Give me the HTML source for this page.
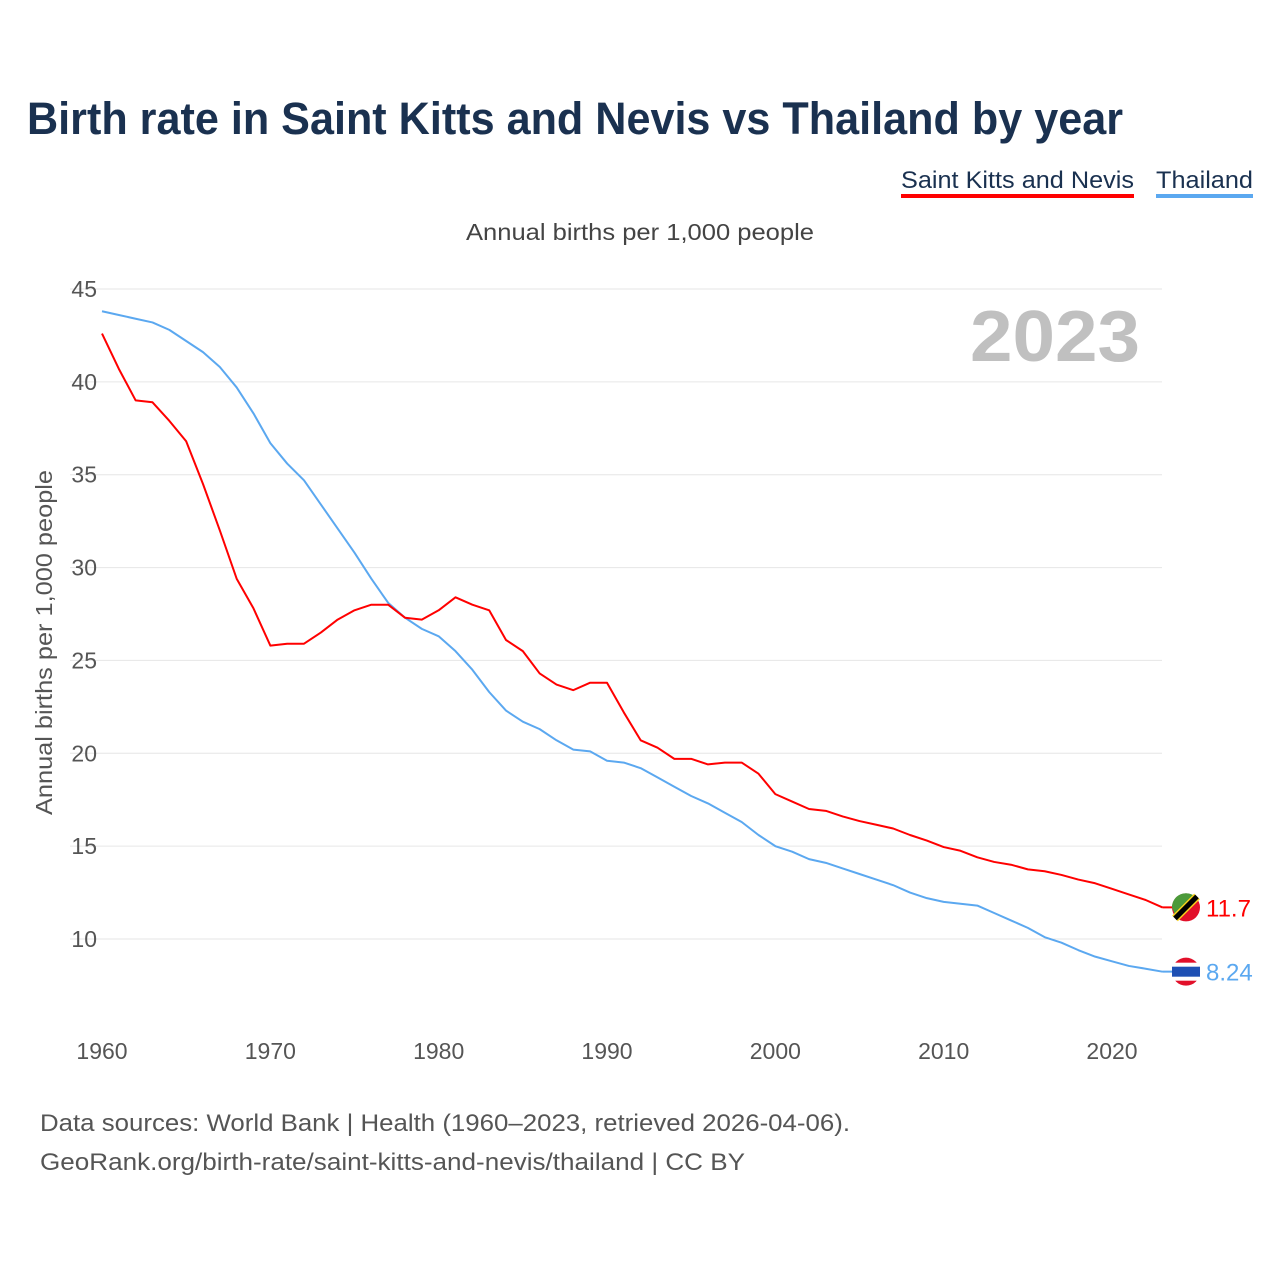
<!DOCTYPE html>
<html><head><meta charset="utf-8">
<style>
body{margin:0;background:#fff;font-family:"Liberation Sans",sans-serif;}
svg text{font-family:"Liberation Sans",sans-serif;}
</style></head>
<body>
<svg id="chart" width="1280" height="1280" viewBox="0 0 1280 1280">
<text x="27" y="134" font-size="45" font-weight="bold" fill="#1a3150" textLength="1096" lengthAdjust="spacingAndGlyphs">Birth rate in Saint Kitts and Nevis vs Thailand by year</text>
<g>
<text x="901" y="188" font-size="24" fill="#1a3150" textLength="233" lengthAdjust="spacingAndGlyphs">Saint Kitts and Nevis</text>
<rect x="901" y="194" width="233" height="4" fill="#ff0000"/>
<text x="1156" y="188" font-size="24" fill="#1a3150" textLength="97" lengthAdjust="spacingAndGlyphs">Thailand</text>
<rect x="1156" y="194" width="97" height="4" fill="#5ba8f0"/>
</g>
<text x="466" y="240" font-size="23" fill="#444" textLength="348" lengthAdjust="spacingAndGlyphs">Annual births per 1,000 people</text>
<text x="52" y="815" font-size="23" fill="#555" textLength="345" lengthAdjust="spacingAndGlyphs" transform="rotate(-90 52 815)">Annual births per 1,000 people</text>
<text x="970" y="361" font-size="72" font-weight="bold" fill="#c0c0c0" textLength="170" lengthAdjust="spacingAndGlyphs">2023</text>
<g id="grid"></g>
<g id="series"></g>
<text x="40" y="1131" font-size="24" fill="#555" textLength="810" lengthAdjust="spacingAndGlyphs">Data sources: World Bank | Health (1960–2023, retrieved 2026-04-06).</text>
<text x="40" y="1170" font-size="24" fill="#555" textLength="705" lengthAdjust="spacingAndGlyphs">GeoRank.org/birth-rate/saint-kitts-and-nevis/thailand | CC BY</text>
</svg>
<script>
const years=[];for(let y=1960;y<=2023;y++)years.push(y);
const kitts=[42.6,40.7,39.0,38.9,37.9,36.8,34.5,32.0,29.4,27.8,25.8,25.9,25.9,26.5,27.2,27.7,28.0,28.0,27.3,27.2,27.7,28.4,28.0,27.7,26.1,25.5,24.3,23.7,23.4,23.8,23.8,22.2,20.7,20.3,19.7,19.7,19.4,19.5,19.5,18.9,17.8,17.4,17.0,16.9,16.6,16.35,16.15,15.95,15.6,15.3,14.95,14.75,14.4,14.15,14.0,13.75,13.65,13.45,13.2,13.0,12.7,12.4,12.1,11.7];
const thai=[43.8,43.6,43.4,43.2,42.8,42.2,41.6,40.8,39.7,38.3,36.7,35.6,34.7,33.4,32.1,30.8,29.4,28.1,27.3,26.7,26.3,25.5,24.5,23.3,22.3,21.7,21.3,20.7,20.2,20.1,19.6,19.5,19.2,18.7,18.2,17.7,17.3,16.8,16.3,15.6,15.0,14.7,14.3,14.1,13.8,13.5,13.2,12.9,12.5,12.2,12.0,11.9,11.8,11.4,11.0,10.6,10.1,9.8,9.4,9.05,8.8,8.55,8.4,8.24];
const yTicks=[10,15,20,25,30,35,40,45];
const xTicks=[1960,1970,1980,1990,2000,2010,2020];
const kittsLabel="11.7", thaiLabel="8.24";
const NS="http://www.w3.org/2000/svg";
const X=y=>102+(y-1960)*(1010/60);
const Y=v=>939-(v-10)*(650/35);
function mk(t,a,p){const e=document.createElementNS(NS,t);for(const k in a)e.setAttribute(k,a[k]);p.appendChild(e);return e;}
const grid=document.getElementById('grid'), ser=document.getElementById('series');
yTicks.forEach(v=>{
 const l=mk('line',{x1:70,x2:1162,y1:Y(v),y2:Y(v),stroke:'#e6e6e6','stroke-width':1},grid);
 
 
 const t=mk('text',{x:97,y:Y(v)+8,'font-size':23,fill:'#555','text-anchor':'end'},grid);t.textContent=v;
 
 
});
xTicks.forEach(v=>{
 const t=mk('text',{x:X(v),y:1059,'font-size':23,fill:'#555','text-anchor':'middle'},grid);t.textContent=v;
 
 
});
function line(d,c,name){
 const p=mk('polyline',{points:d.map((v,i)=>X(years[i])+','+Y(v)).join(' '),fill:'none',stroke:c,'stroke-width':2,'stroke-linejoin':'round'},ser);
 
 
}
line(thai,'#5ba8f0','thailand-line');
line(kitts,'#ff0000','saint-kitts-line');
const lk=kitts[kitts.length-1], lt=thai[thai.length-1], xe=X(2023);
mk('line',{x1:xe,x2:xe+24,y1:Y(lk),y2:Y(lk),stroke:'#ff0000','stroke-width':2},ser);
mk('line',{x1:xe,x2:xe+24,y1:Y(lt),y2:Y(lt),stroke:'#5ba8f0','stroke-width':2},ser);
const fk=mk('g',{},ser);


const cx=1186, ck=Y(lk);
mk('circle',{cx:cx,cy:ck,r:14,fill:'#e2102a'},fk);
mk('path',{d:`M${cx-14} ${ck} A14 14 0 0 1 ${cx+10} ${ck-10} L${cx-10} ${ck+10} Z`,fill:'#4b9a3a'},fk);
mk('line',{x1:cx-11,y1:ck+11,x2:cx+11,y2:ck-11,stroke:'#f8d21c','stroke-width':8},fk);
mk('line',{x1:cx-11,y1:ck+11,x2:cx+11,y2:ck-11,stroke:'#000','stroke-width':5},fk);
const ft=mk('g',{},ser);


const ct=Y(lt);
mk('circle',{cx:cx,cy:ct,r:14,fill:'#e2102a'},ft);
mk('rect',{x:cx-14,y:ct-9,width:28,height:18,fill:'#fff'},ft);
mk('rect',{x:cx-14,y:ct-5,width:28,height:10,fill:'#1e50b4'},ft);
const tk=mk('text',{x:1206,y:ck+9,'font-size':24,fill:'#ff0000'},ser);tk.textContent=kittsLabel;


const tt=mk('text',{x:1206,y:ct+9,'font-size':24,fill:'#5ba8f0'},ser);tt.textContent=thaiLabel;


</script>
</body></html>
